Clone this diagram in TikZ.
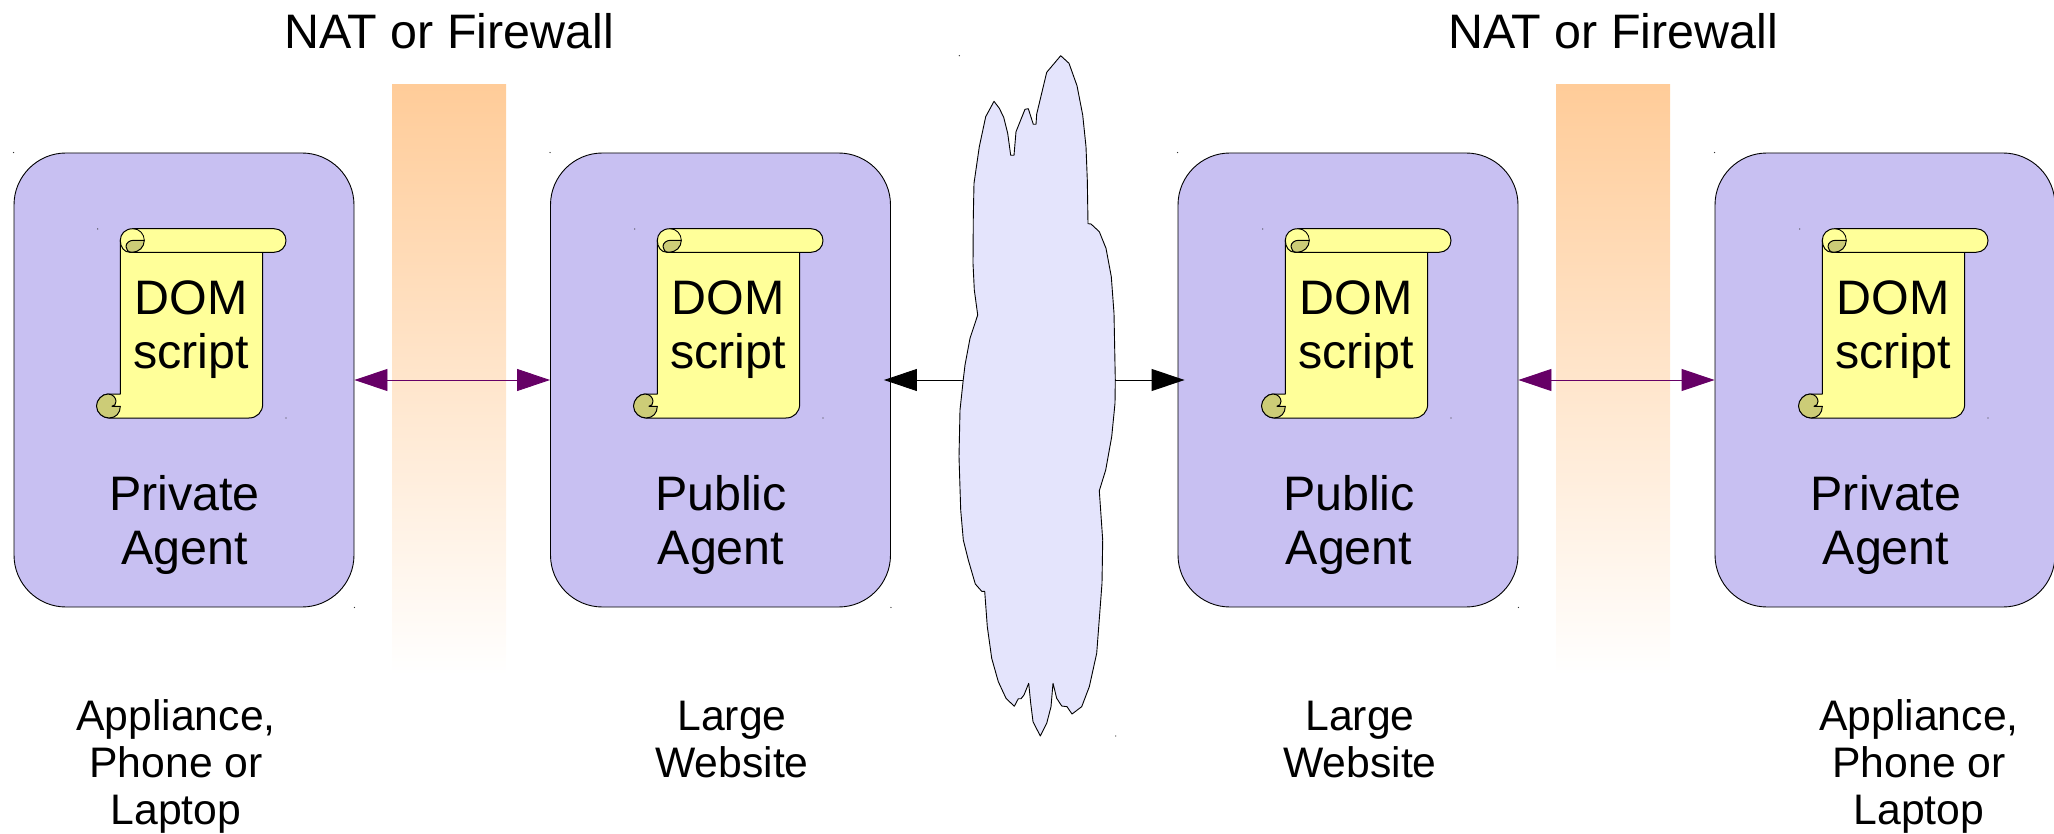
\documentclass[tikz,border=0pt]{standalone}
\usepackage{fontspec}
\setmainfont{Liberation Sans}
\usetikzlibrary{arrows.meta}
\definecolor{boxc}{HTML}{C8C0F2}
\definecolor{scrollc}{HTML}{FFFF99}
\definecolor{curlc}{HTML}{CCCC77}
\definecolor{cloudc}{HTML}{E4E4FC}
\definecolor{fwc}{HTML}{FFCC99}
\definecolor{purp}{HTML}{660066}
\tikzset{
  agent/.style={draw=black,line width=0.9pt,fill=boxc,rounded corners=52pt,minimum width=340pt,minimum height=454pt,inner sep=0pt},
  lab/.style={font=\fontsize{48.4}{54}\selectfont,align=center,inner sep=0pt,text=black},
  sublab/.style={font=\fontsize{42.7}{47}\selectfont,align=center,inner sep=0pt,text=black},
  title/.style={font=\fontsize{48.4}{56}\selectfont,inner sep=0pt,text=black},
  pline/.style={purp,line width=0.9pt,{Triangle[length=33pt,width=22pt]}-{Triangle[length=33pt,width=22pt]}},
  bline/.style={black,line width=0.9pt,-{Triangle[length=33pt,width=22pt]},shorten >=-7pt},
  scrollline/.style={draw=black,line width=1pt,line join=round}
}
\newcommand{\speck}[1]{\fill[black!80] #1 circle (0.7pt);}
\newcommand{\scrollat}[1]{%
\begin{scope}[shift={(#1,0)}]
  % body
  \path[scrollline,fill=scrollc] (120.3,240) -- (120.3,394) -- (108,394)
    .. controls (102,394) and (97,400) .. (97,406) .. controls (97,413) and (103,418) .. (109,418)
    -- (249,418) .. controls (257,418) and (262.7,412) .. (262.7,404) -- (262.7,252.3) -- cycle;
  % top roll
  \path[scrollline,fill=scrollc] (133,228.7) -- (274,228.7) .. controls (281,228.7) and (286,234) .. (286,240.5)
    .. controls (286,247) and (281,252.3) .. (274,252.3) -- (130,252.3)
    .. controls (124,252.3) and (120.3,247) .. (120.3,240.5) .. controls (120.3,234) and (125,228.7) .. (133,228.7) -- cycle;
  % top curl: thin shaded wedge along the roll
  \fill[curlc] (133,228.7) .. controls (139,228.7) and (144.3,234) .. (144.3,240)
    .. controls (143,234) and (139,230) .. (133,228.7) -- cycle;
  % top curl: lens
  \path[scrollline,fill=curlc] (132,252.3) .. controls (128,252.3) and (126,249.5) .. (126,246.5)
    .. controls (126,243) and (129.5,240.3) .. (133.5,240.3) -- (144.3,240.3)
    .. controls (144.3,247) and (139,252.3) .. (132,252.3) -- cycle;
  \draw[black,line width=0.8pt] (133,228.7) .. controls (139.5,228.7) and (144.3,234) .. (144.3,240.3);
  % bottom curl
  \path[scrollline,fill=curlc] (109,418) .. controls (103,418) and (96.5,413) .. (96.5,406)
    .. controls (96.5,400) and (102,394) .. (108,394) .. controls (113,394) and (116,398) .. (116,401.3)
    .. controls (116,404) and (114.5,406.3) .. (112,406.3) -- (120.3,406.3)
    .. controls (120.3,413) and (116,418) .. (109,418) -- cycle;
  \speck{(97.7,229)}
  \speck{(286,418)}
\end{scope}}
\begin{document}
\begin{tikzpicture}[x=1pt,y=-1pt]
\useasboundingbox (0,0) rectangle (2054,834);
% firewalls
\shade[top color=fwc,bottom color=white] (392,85) rectangle (506,675);
\shade[top color=fwc,bottom color=white] (1556,85) rectangle (1670,675);
% agents
\node[agent] (box1) at (184,380) {};
\node[agent] (box2) at (720.5,380) {};
\node[agent] (box3) at (1348,380) {};
\node[agent] (box4) at (1885,380) {};
\foreach \b in {box1,box2,box3,box4}{
  \fill[black!80] (\b.north west) circle (0.7pt);
  \fill[black!80] (\b.south east) circle (0.7pt);
}
% cloud
\coordinate (cloudL) at (963.5,380);
\coordinate (cloudR) at (1115.3,380);
\draw[bline] (cloudL) -- (box2.east);
\draw[bline] (cloudR) -- (box3.west);
\draw[black,line width=0.9pt,fill=cloudc,line join=round] (963.3,379.3) -- (965,365) -- (970,338.3) -- (977.7,315) -- (974.3,290) -- (973,263.3) -- (973.3,216.7) -- (974,183.3) -- (979.3,146.7) -- (985.7,116.7) -- (994,101.3) -- (999.3,108.3) -- (1003.7,117.3) -- (1007.7,133.3) -- (1010.7,155.3) -- (1014,155.3) -- (1016,131.7) -- (1025,109.3) -- (1028.3,108.7) -- (1033.3,124.3) -- (1036,124.3) -- (1036.7,114) -- (1046.7,72.3) -- (1060.7,55.7) -- (1069,63.3) -- (1077,85.7) -- (1082.7,115) -- (1086,146.7) -- (1087.3,180) -- (1088,223.7) -- (1091,224) -- (1099.3,231.7) -- (1106,248.3) -- (1111.3,276.7) -- (1114,313.3) -- (1115.3,380) -- (1115,403.3) -- (1111.7,436.7) -- (1105.7,470) -- (1099.3,490.7) -- (1102.7,540) -- (1102,583.3) -- (1096.7,653.3) -- (1089.3,686.7) -- (1081.7,706.7) -- (1072,714) -- (1067,706.7) -- (1061.7,706) -- (1056.7,698.3) -- (1053,683.3) -- (1051,706.7) -- (1046.7,723.3) -- (1040.3,736) -- (1033,721.7) -- (1030.7,703.3) -- (1028.7,683.3) -- (1024,695) -- (1021,698.7) -- (1018.3,698.7) -- (1014.3,706.3) -- (1006,698.3) -- (998.3,681.7) -- (991.7,658.3) -- (987.3,626.7) -- (984.7,591.3) -- (981.7,591.3) -- (975.3,584) -- (968.3,560) -- (963.3,540) -- (960.7,510) -- (959,456.7) -- (960,410) -- cycle;
\speck{(959.3,55.7)}
\speck{(1115.7,736)}
% arrows
\draw[pline] (box1.east) -- (box2.west);
\draw[pline] (box3.east) -- (box4.west);
% scrolls
\scrollat{0}\scrollat{537}\scrollat{1165}\scrollat{1702}
\foreach \n/\x in {d1/191,d2/728,d3/1356,d4/1893}{
  \node[lab] (\n) at (\x,329.5) {DOM\\script};
}
\node[lab] (a1) at (184.5,525) {Private\\Agent};
\node[lab] (a2) at (721,525) {Public\\Agent};
\node[lab] (a3) at (1349,525) {Public\\Agent};
\node[lab] (a4) at (1886,525) {Private\\Agent};
\node[sublab] (s1) at (176,766) {Appliance,\\Phone or\\Laptop};
\node[sublab] (s2) at (732,740) {Large\\Website};
\node[sublab] (s3) at (1360,740) {Large\\Website};
\node[sublab] (s4) at (1919,766) {Appliance,\\Phone or\\Laptop};
\node[title] (t1) at (449,31) {NAT or Firewall};
\node[title] (t2) at (1613,31) {NAT or Firewall};
\end{tikzpicture}
\end{document}
